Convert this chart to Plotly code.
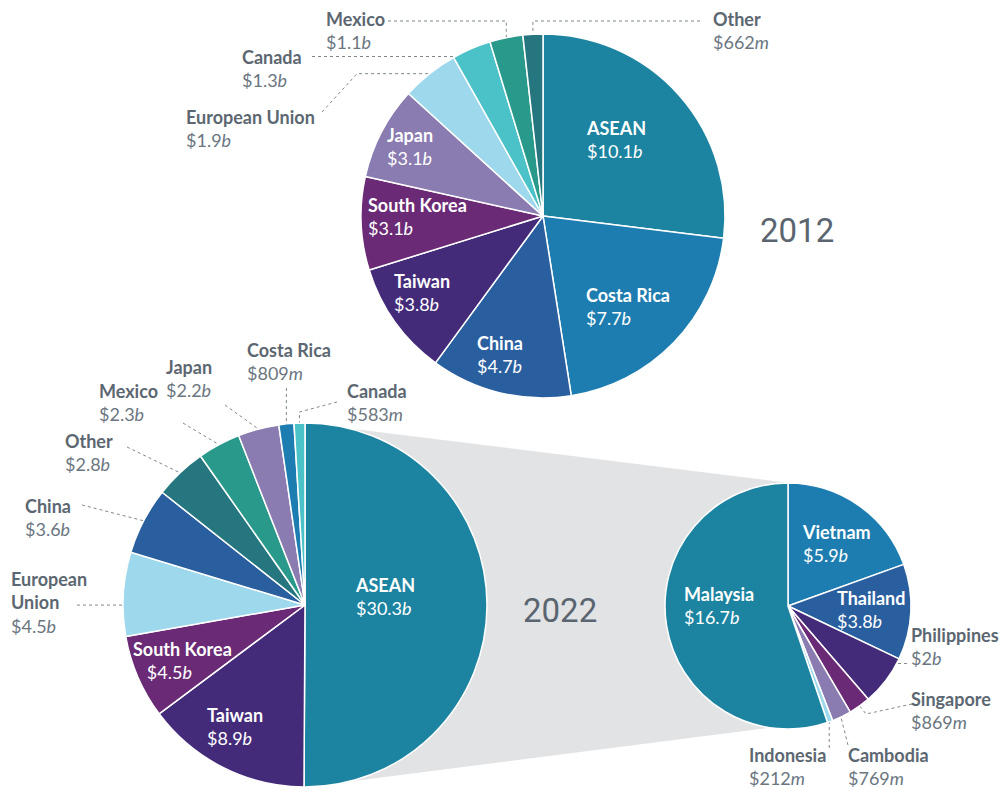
import math
import plotly.graph_objects as go

W, H = 1003, 789

# ---------------- data ----------------
labels_2012 = ["ASEAN", "Costa Rica", "China", "Taiwan", "South Korea", "Japan",
               "European Union", "Canada", "Mexico", "Other"]
values_2012 = [10.1, 7.7, 4.7, 3.8, 3.1, 3.1, 1.9, 1.3, 1.1, 0.662]

labels_2022 = ["ASEAN", "Taiwan", "South Korea", "European Union", "China", "Other",
               "Mexico", "Japan", "Costa Rica", "Canada"]
values_2022 = [30.3, 8.9, 4.5, 4.5, 3.6, 2.8, 2.3, 2.2, 0.809, 0.583]

labels_asean = ["Vietnam", "Thailand", "Philippines", "Singapore", "Cambodia",
                "Indonesia", "Malaysia"]
values_asean = [5.9, 3.8, 2.0, 0.869, 0.769, 0.212, 16.7]

years = ["2012", "2022"]

# ---------------- styles ----------------
COL = {
    "ASEAN": "#1c84a1", "Costa Rica": "#1e7db0", "China": "#295e9f", "Taiwan": "#432b7a",
    "South Korea": "#6a2a76", "Japan": "#8a7bb0", "European Union": "#9dd8ec",
    "Canada": "#4bc2c7", "Mexico": "#29998b", "Other": "#25767f",
    "Malaysia": "#1c84a1", "Vietnam": "#1e7db0", "Thailand": "#295e9f",
    "Philippines": "#432b7a", "Singapore": "#6a2a76", "Cambodia": "#8a7bb0",
    "Indonesia": "#9dd8ec",
}
FONT = "Lato, Roboto, sans-serif"
GRAY_TXT = "#5c6771"
LEAD = "#7f888f"

P12 = dict(cx=543, cy=216, r=182)
P22 = dict(cx=305, cy=605, r=182)
PAS = dict(cx=788, cy=606, r=123)


def fmt(v):
    if v >= 1:
        return "$%g<i>b</i>" % v
    return "$%d<i>m</i>" % round(v * 1000)


def domain(p):
    return dict(x=[(p["cx"] - p["r"]) / W, (p["cx"] + p["r"]) / W],
                y=[1 - (p["cy"] + p["r"]) / H, 1 - (p["cy"] - p["r"]) / H])


def anchor(p, vals, idx, frac=0.5, rf=1.0):
    tot = sum(vals)
    a = (sum(vals[:idx]) + frac * vals[idx]) / tot * 2 * math.pi
    return (p["cx"] + rf * p["r"] * math.sin(a), p["cy"] - rf * p["r"] * math.cos(a))


fig = go.Figure()

# gray connector between the ASEAN slice and its breakdown
gx = [P22["cx"], PAS["cx"] + 2, PAS["cx"] - 0.15 * PAS["r"], P22["cx"] + 2, P22["cx"]]
gy = [P22["cy"] - P22["r"], PAS["cy"] - PAS["r"], PAS["cy"] + 0.99 * PAS["r"],
      P22["cy"] + P22["r"], P22["cy"] - P22["r"]]
fig.add_trace(go.Scatter(x=gx, y=gy, fill="toself", fillcolor="#e2e3e5", mode="lines",
                         line=dict(width=0, color="#e2e3e5"), hoverinfo="skip",
                         showlegend=False))

# leader lines
leaders = []
A = anchor(P12, values_2012, 8)
leaders.append([(388, 21), (A[0], 21), A])
A = anchor(P12, values_2012, 9)
leaders.append([(700, 21), (A[0], 21), A])
A = anchor(P12, values_2012, 7, 0.05)
leaders.append([(312, A[1]), A])
A = anchor(P12, values_2012, 6)
leaders.append([(322, 112), (357, A[1]), A])

A = anchor(P22, values_2022, 9)
leaders.append([(337, 402), (A[0], 412), A])
A = anchor(P22, values_2022, 8)
leaders.append([(A[0], 388), A])
A = anchor(P22, values_2022, 7)
leaders.append([(225, 405), A])
A = anchor(P22, values_2022, 6)
leaders.append([(183, 423), A])
A = anchor(P22, values_2022, 5)
leaders.append([(127, 447), A])
A = anchor(P22, values_2022, 4)
leaders.append([(82, 505), A])
A = anchor(P22, values_2022, 3, 0.37)
leaders.append([(77, A[1]), A])

A = anchor(PAS, values_asean, 2, 0.2, 0.93)
leaders.append([(907, A[1]), A])
A = anchor(PAS, values_asean, 3, 0.5, 0.97)
leaders.append([(912, 704), (866, 714), A])
A = anchor(PAS, values_asean, 4, 0.5, 0.97)
leaders.append([(848, 745), A])
A = anchor(PAS, values_asean, 5, 0.5, 0.98)
leaders.append([(A[0], 748), A])

for pts in leaders:
    fig.add_trace(go.Scatter(x=[q[0] for q in pts], y=[q[1] for q in pts], mode="lines",
                             line=dict(color=LEAD, width=1, dash="dot"),
                             hoverinfo="skip", showlegend=False))

# pies
for p, labs, vals in [(P12, labels_2012, values_2012), (P22, labels_2022, values_2022),
                      (PAS, labels_asean, values_asean)]:
    fig.add_trace(go.Pie(labels=labs, values=vals, sort=False, direction="clockwise",
                         rotation=0, domain=domain(p), textinfo="none",
                         marker=dict(colors=[COL[l] for l in labs],
                                     line=dict(color="white", width=1.5)),
                         showlegend=False, hoverinfo="label+value"))

# label positions (x left, y middle of text block); True = inside (white)
pos_2012 = {
    "ASEAN": (584, 139, True), "Costa Rica": (584, 306, True), "China": (475, 354, True),
    "Taiwan": (392, 292, True), "South Korea": (366, 216, True), "Japan": (385, 146, True),
    "European Union": (184, 128, False), "Canada": (240, 68, False),
    "Mexico": (324, 30, False), "Other": (711, 30, False),
}
pos_2022 = {
    "ASEAN": (353, 596, True), "Taiwan": (205, 726, True), "South Korea": (131, 660, True),
    "European Union": (9, 602, False), "China": (23, 517, False), "Other": (63, 452, False),
    "Mexico": (97, 402, False), "Japan": (164, 378, False), "Costa Rica": (245, 361, False),
    "Canada": (345, 402, False),
}
pos_asean = {
    "Vietnam": (800, 543, True), "Thailand": (835, 609, True), "Malaysia": (682, 605, True),
    "Philippines": (909, 646, False), "Singapore": (909, 710, False),
    "Cambodia": (846, 766, False), "Indonesia": (747, 766, False),
}

for labs, vals, pos in [(labels_2012, values_2012, pos_2012),
                        (labels_2022, values_2022, pos_2022),
                        (labels_asean, values_asean, pos_asean)]:
    for lab, v in zip(labs, vals):
        x, y, inside = pos[lab]
        indent = ""
        if lab == "European Union" and labs is labels_2022:
            name = "<b>European</b><br><b>Union</b>"
        else:
            name = "<b>%s</b>" % lab
        if lab == "South Korea" and labs is labels_2022:
            indent = "&nbsp;&nbsp;&nbsp;"
        c = "white" if inside else GRAY_TXT
        vc = "white" if inside else "#6b767f"
        txt = "%s<br>%s<span style='color:%s'>%s</span>" % (name, indent, vc, fmt(v))
        fig.add_annotation(x=x, y=y, xref="x", yref="y", text=txt, showarrow=False,
                           xanchor="left", yanchor="middle", align="left",
                           font=dict(family=FONT, size=18, color=c))

# year labels
for yr, (x, y) in zip(years, [(797, 230), (560, 610)]):
    fig.add_annotation(x=x, y=y, xref="x", yref="y", text=yr, showarrow=False,
                       xanchor="center", yanchor="middle",
                       font=dict(family="Roboto, Lato, sans-serif", size=33, color="#5a6570"))

fig.update_layout(
    width=W, height=H, margin=dict(l=0, r=0, t=0, b=0),
    paper_bgcolor="white", plot_bgcolor="rgba(0,0,0,0)",
    xaxis=dict(range=[0, W], visible=False, domain=[0, 1], fixedrange=True),
    yaxis=dict(range=[H, 0], visible=False, domain=[0, 1], fixedrange=True),
    showlegend=False,
)

fig.write_html("out.html", config={"displayModeBar": False},
               post_script="document.body.style.margin='0px';document.body.style.overflow='hidden';")
